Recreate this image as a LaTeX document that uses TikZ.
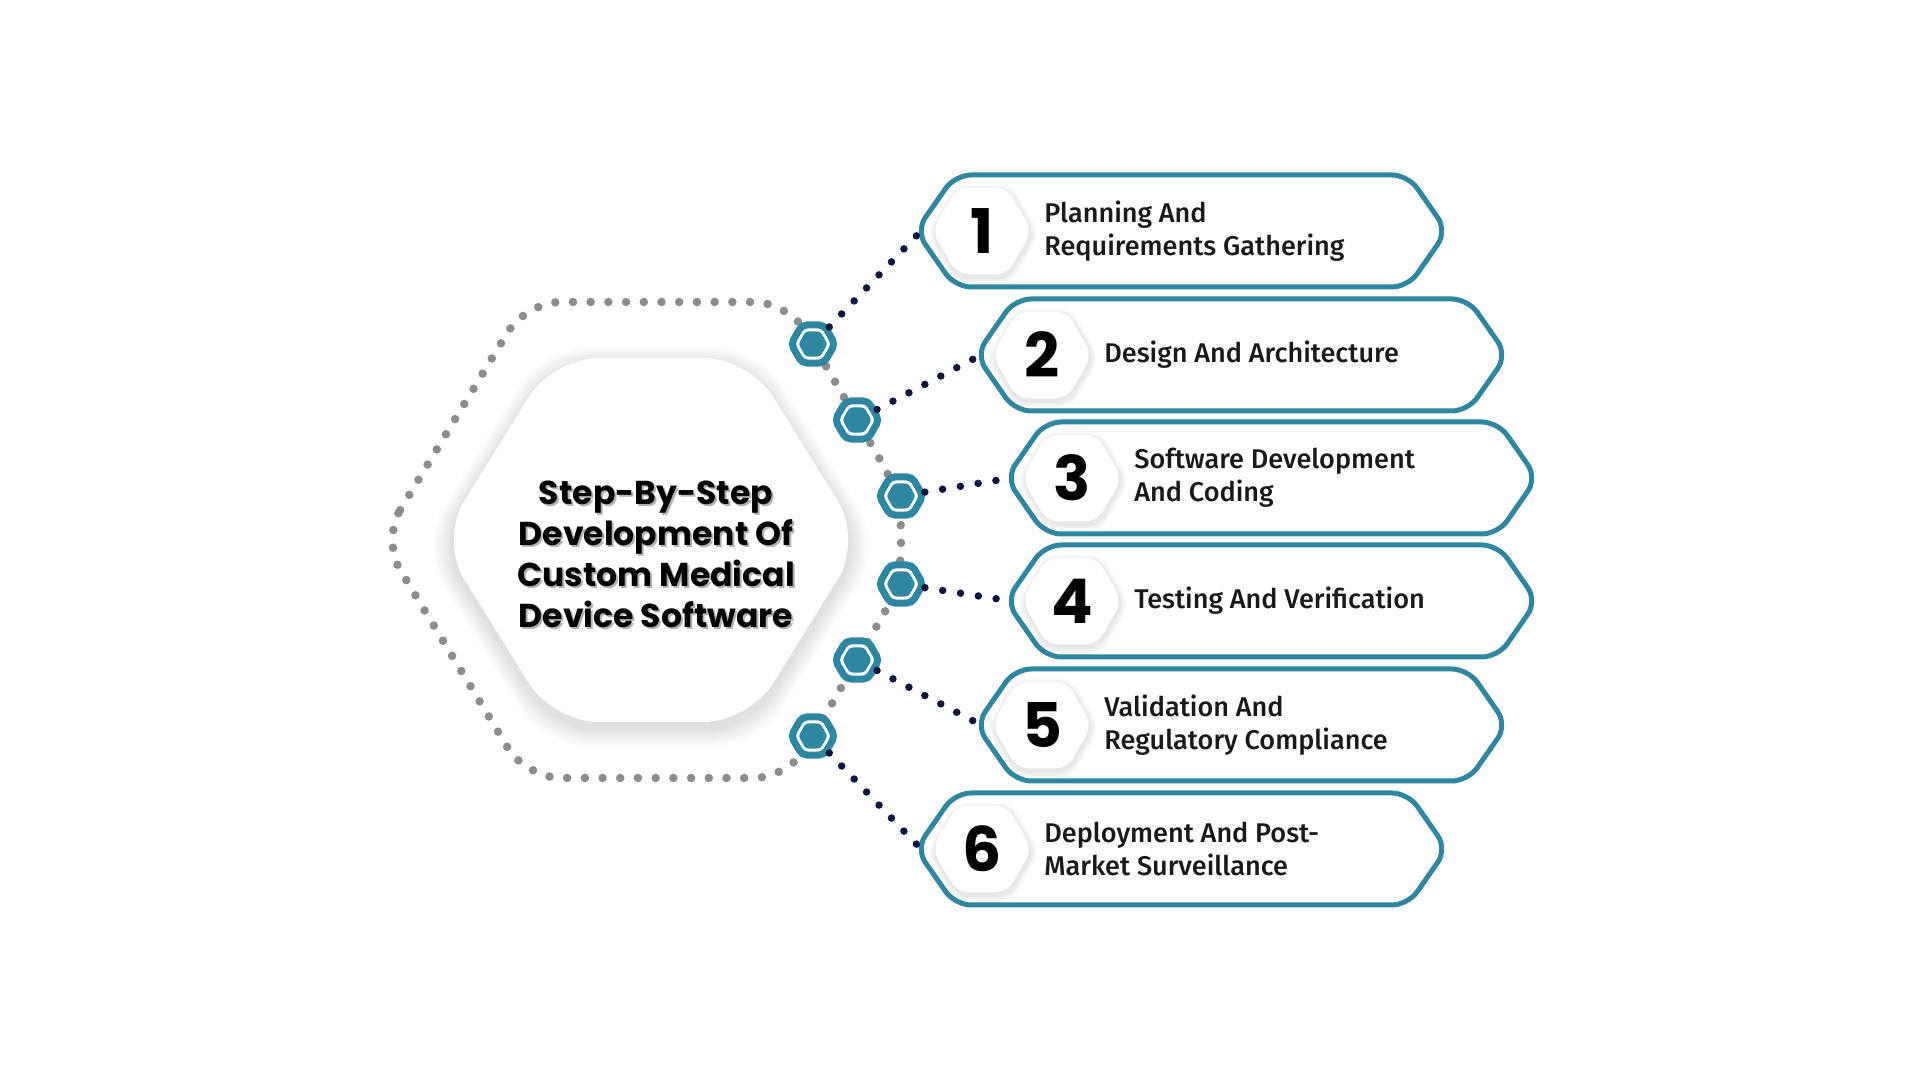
\documentclass[tikz,border=0pt]{standalone}
\usepackage{fontspec}
\setmainfont{Fira Sans}
\newfontfamily\titlefont{Poppins}
\newfontfamily\labelfont{Fira Sans Medium}
\usepackage{tikz}
\usetikzlibrary{shapes.geometric}
\usetikzlibrary{positioning}

\definecolor{tealline}{HTML}{2E87A0}
\definecolor{navydot}{HTML}{0E1640}
\definecolor{greydot}{HTML}{8C8C8C}

\tikzset{
  hexring/.style={regular polygon, regular polygon sides=6, minimum size=0.44cm, inner sep=0pt,
    draw=tealline, line width=0.07cm, fill=white, rounded corners=0.05cm},
  hexcore/.style={regular polygon, regular polygon sides=6, minimum size=0.29cm, inner sep=0pt,
    fill=tealline, rounded corners=0.03cm},
  greydots/.style={draw=greydot, line width=0.085cm, line cap=round, dash pattern=on 0pt off 0.177cm},
  navydots/.style={draw=navydot, line width=0.075cm, line cap=round, dash pattern=on 0pt off 0.18cm},
  boxline/.style={draw=tealline, line width=0.05cm, fill=white, rounded corners=0.16cm},
  numhex/.style={regular polygon, regular polygon sides=6, minimum size=1.0cm, inner sep=0pt,
    fill=white, rounded corners=0.12cm},
  numtext/.style={font=\titlefont\bfseries\fontsize{17.5}{17.5}\selectfont},
  steptext/.style={font=\labelfont\fontsize{7.7}{9.4}\selectfont, anchor=west, align=left, text=black!90},
  titletext/.style={font=\titlefont\bfseries\fontsize{9.4}{11.67}\selectfont, align=center},
}

\begin{document}
\begin{tikzpicture}[x=0.01cm, y=-0.01cm]
\fill[white] (0,0) rectangle (1920,1080);
\useasboundingbox (0,0) rectangle (1920,1080);

% centre hexagon with soft shadow
\coordinate (ctr) at (651,540);
\foreach \k [evaluate=\k as \sf using 1+0.012*\k] in {1,...,8}
  \fill[black, opacity=0.014, rounded corners=0.45cm, scale around={\sf:(ctr)}, shift={(0,6)}]
    (440,540) -- (553,358) -- (749,358) -- (862,540) -- (749,722) -- (553,722) -- cycle;
\fill[white, rounded corners=0.45cm]
  (440,540) -- (553,358) -- (749,358) -- (862,540) -- (749,722) -- (553,722) -- cycle;

% dotted ring
\draw[greydots, rounded corners=0.35cm]
  (382,540) -- (526,302) -- (789,302) -- (901,496) -- (901,584) -- (789,778) -- (526,778) -- cycle;

% small hexagons on the ring
\node[hexring] (h1) at (813,344) {};
\node[hexring] (h2) at (857,420) {};
\node[hexring] (h3) at (901,496) {};
\node[hexring] (h4) at (901,584) {};
\node[hexring] (h5) at (857,660) {};
\node[hexring] (h6) at (813,736) {};
\foreach \n in {1,...,6}
  \node[hexcore] (h\n c) at (h\n) {};

% step boxes
\foreach \n/\l/\cy/\txt in {
    1/921/231/{Planning And\\Requirements Gathering},
    2/981/355/{Design And Architecture},
    3/1011/478/{Software Development\\And Coding},
    4/1011/601/{Testing And Verification},
    5/981/725/{Validation And\\Regulatory Compliance},
    6/921/849/{Deployment And Post-\\Market Surveillance}}
{
  \coordinate (b\n) at (\l,\cy);
  \draw[boxline] (b\n) ++(-5,0) -- ++(39,-56) -- ++(453,0) -- ++(39,56) -- ++(-39,56) -- ++(-453,0) -- cycle;
  \foreach \k in {1,...,4}
    \node[numhex, fill=black, opacity=0.025, minimum size=1.0cm+\k*0.035cm] (ns\n-\k) at (\l+62,\cy+3) {};
  \node[numhex] (nh\n) at (\l+61,\cy) {};
  \node[numtext] (num\n) at (nh\n) {\n};
  \node[steptext] (txt\n) at (\l+111,\cy) {\txt};
}

% connectors
\foreach \n in {1,...,6}
  \draw[navydots] (h\n) -- (b\n);

% title
\node[titletext, text=black, opacity=0.3] (titleshadow) at (658,556)
  {Step-By-Step\\Development Of\\Custom Medical\\Device Software};
\node[titletext] (title) at (656,554)
  {Step-By-Step\\Development Of\\Custom Medical\\Device Software};
\end{tikzpicture}
\end{document}
